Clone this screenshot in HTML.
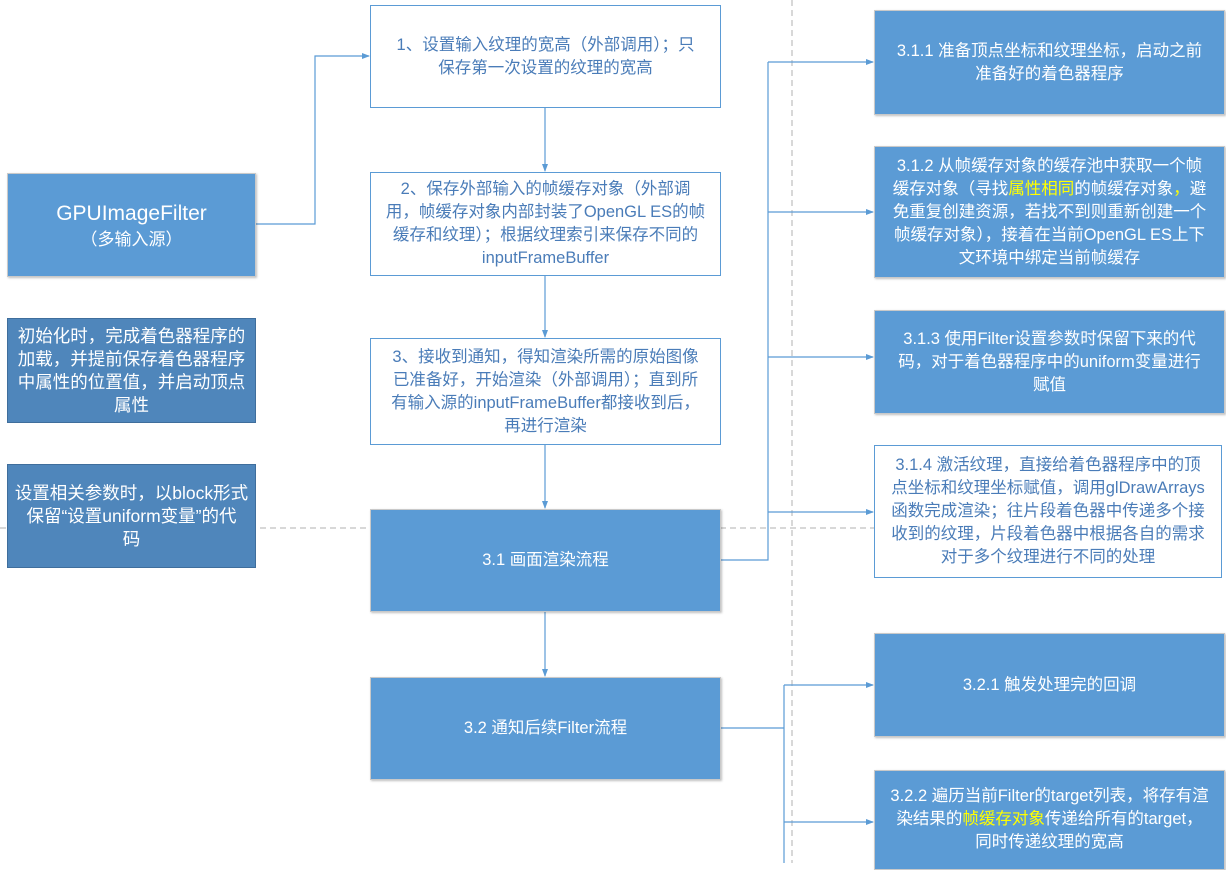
<!DOCTYPE html>
<html><head><meta charset="utf-8"><style>
body{margin:0;width:1226px;height:863px;background:#fff;position:relative;overflow:hidden;font-family:"Liberation Sans","Noto Sans CJK SC",sans-serif;}
.b{position:absolute;box-sizing:border-box;display:flex;align-items:center;justify-content:center;text-align:center;font-size:16.5px;line-height:23px;padding:0 2px;white-space:nowrap;}
.b>div{width:100%;}
.f{background:#5b9bd5;color:#fff;border:1px solid #c9c9c9;box-shadow:1px 1px 2px rgba(0,0,0,.25);}
.d{background:#4f86bb;color:#fff;border:1px solid #3f6e9c;font-size:17.5px;line-height:23px;padding:0 2px;}
.w{background:#fff;color:#4a7cb8;border:1px solid #5b9bd5;}
.y{color:#ffff00;}
svg{position:absolute;left:0;top:0;}
</style></head><body>
<svg width="1226" height="863">
<defs><marker id="a" markerWidth="8" markerHeight="8" refX="7" refY="4" orient="auto" markerUnits="userSpaceOnUse"><path d="M0,1 L8,4 L0,7z" fill="#5b9bd5"/></marker></defs>
<g stroke="#b0b0b0" stroke-dasharray="6,4" fill="none"><line x1="792" y1="0" x2="792" y2="863"/><line x1="0" y1="528" x2="874" y2="528"/></g>
<g stroke="#5b9bd5" stroke-width="1.2" fill="none">
<polyline points="255,224 315,224 315,56 369,56" marker-end="url(#a)"/>
<line x1="545" y1="107" x2="545" y2="171" marker-end="url(#a)"/>
<line x1="545" y1="275" x2="545" y2="337" marker-end="url(#a)"/>
<line x1="545" y1="444" x2="545" y2="508" marker-end="url(#a)"/>
<line x1="545" y1="611" x2="545" y2="676" marker-end="url(#a)"/>
<polyline points="720,560 768,560 768,62"/>
<line x1="768" y1="62" x2="873" y2="62" marker-end="url(#a)"/>
<line x1="768" y1="212" x2="873" y2="212" marker-end="url(#a)"/>
<line x1="768" y1="357" x2="873" y2="357" marker-end="url(#a)"/>
<line x1="768" y1="512" x2="873" y2="512" marker-end="url(#a)"/>
<line x1="720" y1="728" x2="784" y2="728"/>
<line x1="784" y1="685" x2="784" y2="863"/>
<line x1="784" y1="685" x2="873" y2="685" marker-end="url(#a)"/>
<line x1="784" y1="822" x2="873" y2="822" marker-end="url(#a)"/>
</g></svg>

<div class="b f" style="left:7px;top:173px;width:249px;height:104px;"><div><div style="font-size:21px;line-height:28px">GPUImageFilter</div><div style="font-size:17px">（多输入源）</div></div></div>
<div class="b d" style="left:7px;top:318px;width:249px;height:105px;"><div>初始化时，完成着色器程序的<br>加载，并提前保存着色器程序<br>中属性的位置值，并启动顶点<br>属性</div></div>
<div class="b d" style="left:7px;top:464px;width:249px;height:104px;"><div>设置相关参数时，以block形式<br>保留“设置uniform变量”的代<br>码</div></div>

<div class="b w" style="left:370px;top:5px;width:351px;height:103px;"><div>1、设置输入纹理的宽高（外部调用）；只<br>保存第一次设置的纹理的宽高</div></div>
<div class="b w" style="left:370px;top:172px;width:351px;height:104px;"><div>2、保存外部输入的帧缓存对象（外部调<br>用，帧缓存对象内部封装了OpenGL ES的帧<br>缓存和纹理）；根据纹理索引来保存不同的<br>inputFrameBuffer</div></div>
<div class="b w" style="left:370px;top:338px;width:351px;height:107px;"><div>3、接收到通知，得知渲染所需的原始图像<br>已准备好，开始渲染（外部调用）；直到所<br>有输入源的inputFrameBuffer都接收到后，<br>再进行渲染</div></div>
<div class="b f" style="left:370px;top:509px;width:351px;height:103px;"><div>3.1 画面渲染流程</div></div>
<div class="b f" style="left:370px;top:677px;width:351px;height:103px;"><div>3.2 通知后续Filter流程</div></div>

<div class="b f" style="left:874px;top:10px;width:351px;height:105px;"><div>3.1.1 准备顶点坐标和纹理坐标，启动之前<br>准备好的着色器程序</div></div>
<div class="b f" style="left:874px;top:146px;width:351px;height:132px;"><div>3.1.2 从帧缓存对象的缓存池中获取一个帧<br>缓存对象（寻找<span class="y">属性相同</span>的帧缓存对象<span class="y">，</span>避<br>免重复创建资源，若找不到则重新创建一个<br>帧缓存对象），接着在当前OpenGL ES上下<br>文环境中绑定当前帧缓存</div></div>
<div class="b f" style="left:874px;top:310px;width:351px;height:104px;"><div>3.1.3 使用Filter设置参数时保留下来的代<br>码，对于着色器程序中的uniform变量进行<br>赋值</div></div>
<div class="b w" style="left:874px;top:445px;width:348px;height:133px;"><div>3.1.4 激活纹理，直接给着色器程序中的顶<br>点坐标和纹理坐标赋值，调用glDrawArrays<br>函数完成渲染；往片段着色器中传递多个接<br>收到的纹理，片段着色器中根据各自的需求<br>对于多个纹理进行不同的处理</div></div>
<div class="b f" style="left:874px;top:633px;width:351px;height:104px;"><div>3.2.1 触发处理完的回调</div></div>
<div class="b f" style="left:874px;top:770px;width:351px;height:100px;align-items:flex-start;padding-top:14px;"><div>3.2.2 遍历当前Filter的target列表，将存有渲<br>染结果的<span class="y">帧缓存对象</span>传递给所有的target，<br>同时传递纹理的宽高</div></div>
</body></html>
